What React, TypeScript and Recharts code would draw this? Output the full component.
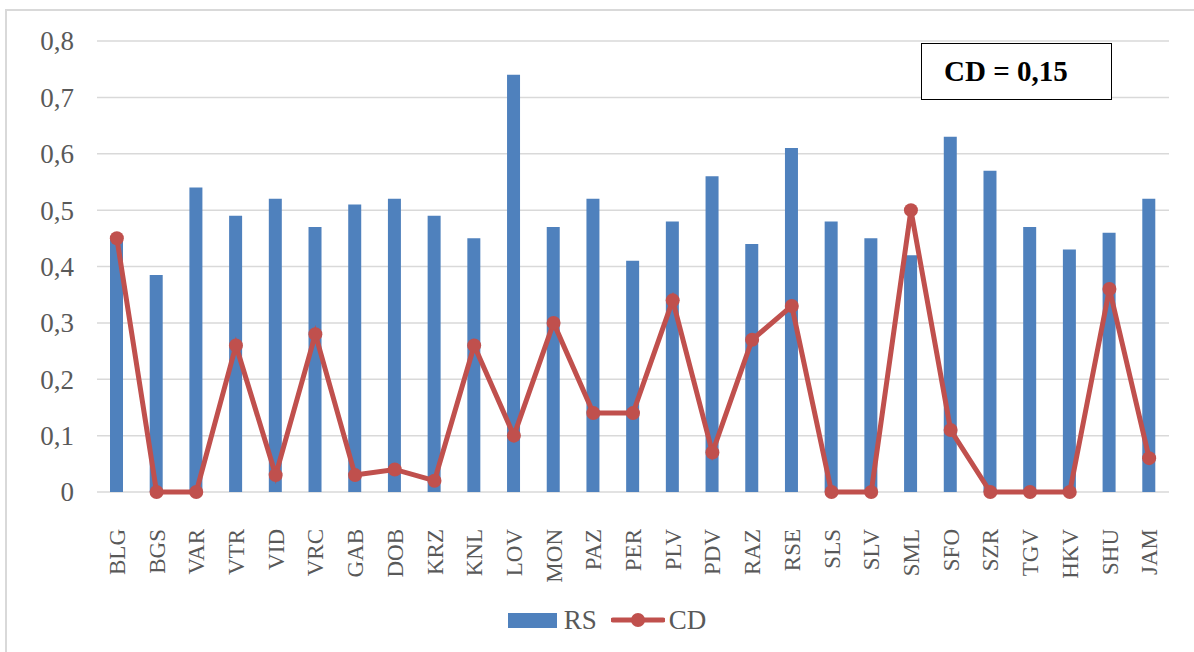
import { Bar, CartesianGrid, ComposedChart, Legend, Line, XAxis, YAxis } from "recharts"

const regions = [
  "BLG", "BGS", "VAR", "VTR", "VID", "VRC", "GAB", "DOB", "KRZ", "KNL", "LOV", "MON", "PAZ", "PER",
  "PLV", "PDV", "RAZ", "RSE", "SLS", "SLV", "SML", "SFO", "SZR", "TGV", "HKV", "SHU", "JAM",
]
const rsValues = [
  0.45, 0.385, 0.54, 0.49, 0.52, 0.47, 0.51, 0.52, 0.49, 0.45, 0.74, 0.47, 0.52, 0.41,
  0.48, 0.56, 0.44, 0.61, 0.48, 0.45, 0.42, 0.63, 0.57, 0.47, 0.43, 0.46, 0.52,
]
const cdValues = [
  0.45, 0, 0, 0.26, 0.03, 0.28, 0.03, 0.04, 0.02, 0.26, 0.1, 0.3, 0.14, 0.14,
  0.34, 0.07, 0.27, 0.33, 0, 0, 0.5, 0.11, 0, 0, 0, 0.36, 0.06,
]
const yTicks = [0, 0.1, 0.2, 0.3, 0.4, 0.5, 0.6, 0.7, 0.8]
const cdLabel = "CD = 0,15"

const data = regions.map((name, i) => ({ name, RS: rsValues[i], CD: cdValues[i] }))

const FONT = "Liberation Serif, Times New Roman, serif"
const TEXT = "#595959"
const BLUE = "#4F81BD"
const RED = "#C0504D"

const XTick = ({ x, y, payload }: any) => (
  <text
    x={0}
    y={0}
    dy="0.35em"
    transform={`translate(${x},${y + 29}) rotate(-90)`}
    textAnchor="end"
    fill={TEXT}
    fontSize={23}
    fontFamily={FONT}
  >
    {payload.value}
  </text>
)

const YTick = ({ y, payload }: any) => (
  <text x={74} y={y} dy="0.35em" textAnchor="end" fill={TEXT} fontSize={27} fontFamily={FONT}>
    {String(payload.value).replace(".", ",")}
  </text>
)

const LegendBox = () => (
  <div
    style={{
      display: "flex",
      justifyContent: "center",
      alignItems: "center",
      height: 30,
      fontFamily: FONT,
      fontSize: 27,
      color: TEXT,
      paddingLeft: 45,
    }}
  >
    <div style={{ width: 49, height: 15, background: BLUE, marginRight: 7 }} />
    <span style={{ marginRight: 14 }}>RS</span>
    <svg width={54} height={16} style={{ marginRight: 4 }}>
      <line x1={2} y1={8} x2={52} y2={8} stroke={RED} strokeWidth={5} strokeLinecap="round" />
      <circle cx={27} cy={8} r={7} fill={RED} />
    </svg>
    <span>CD</span>
  </div>
)

export default function App() {
  return (
    <div style={{ position: "absolute", left: 0, top: 0, width: 1194, height: 652, background: "#fff", overflow: "hidden" }}>
      <div
        style={{
          position: "absolute",
          left: 5,
          top: 9,
          width: 1300,
          height: 700,
          borderLeft: "2px solid #D9D9D9",
          borderTop: "2px solid #D9D9D9",
        }}
      />
      <ComposedChart
        width={1194}
        height={652}
        data={data}
        margin={{ top: 41, right: 25, bottom: 17, left: 0 }}
        barCategoryGap={0}
      >
        <CartesianGrid vertical={false} stroke="#D9D9D9" strokeWidth={1.5} />
        <XAxis
          dataKey="name"
          height={113}
          interval={0}
          tickLine={false}
          axisLine={false}
          tick={<XTick />}
        />
        <YAxis
          width={97}
          domain={[0, 0.8]}
          ticks={yTicks}
          tickLine={false}
          axisLine={false}
          tick={<YTick />}
        />
        <Legend verticalAlign="bottom" content={<LegendBox />} />
        <Bar dataKey="RS" fill={BLUE} barSize={13} isAnimationActive={false} />
        <Line
          dataKey="CD"
          stroke={RED}
          strokeWidth={5}
          dot={{ r: 7, fill: RED, stroke: RED, strokeWidth: 0 }}
          activeDot={false}
          isAnimationActive={false}
        />
      </ComposedChart>
      <div
        style={{
          position: "absolute",
          left: 921,
          top: 43,
          width: 191,
          height: 57,
          border: "1.5px solid #000",
          display: "flex",
          alignItems: "center",
          paddingLeft: 22,
          boxSizing: "border-box",
          fontFamily: FONT,
          fontWeight: "bold",
          fontSize: 29,
          color: "#000",
          background: "#fff",
        }}
      >
        {cdLabel}
      </div>
    </div>
  )
}
